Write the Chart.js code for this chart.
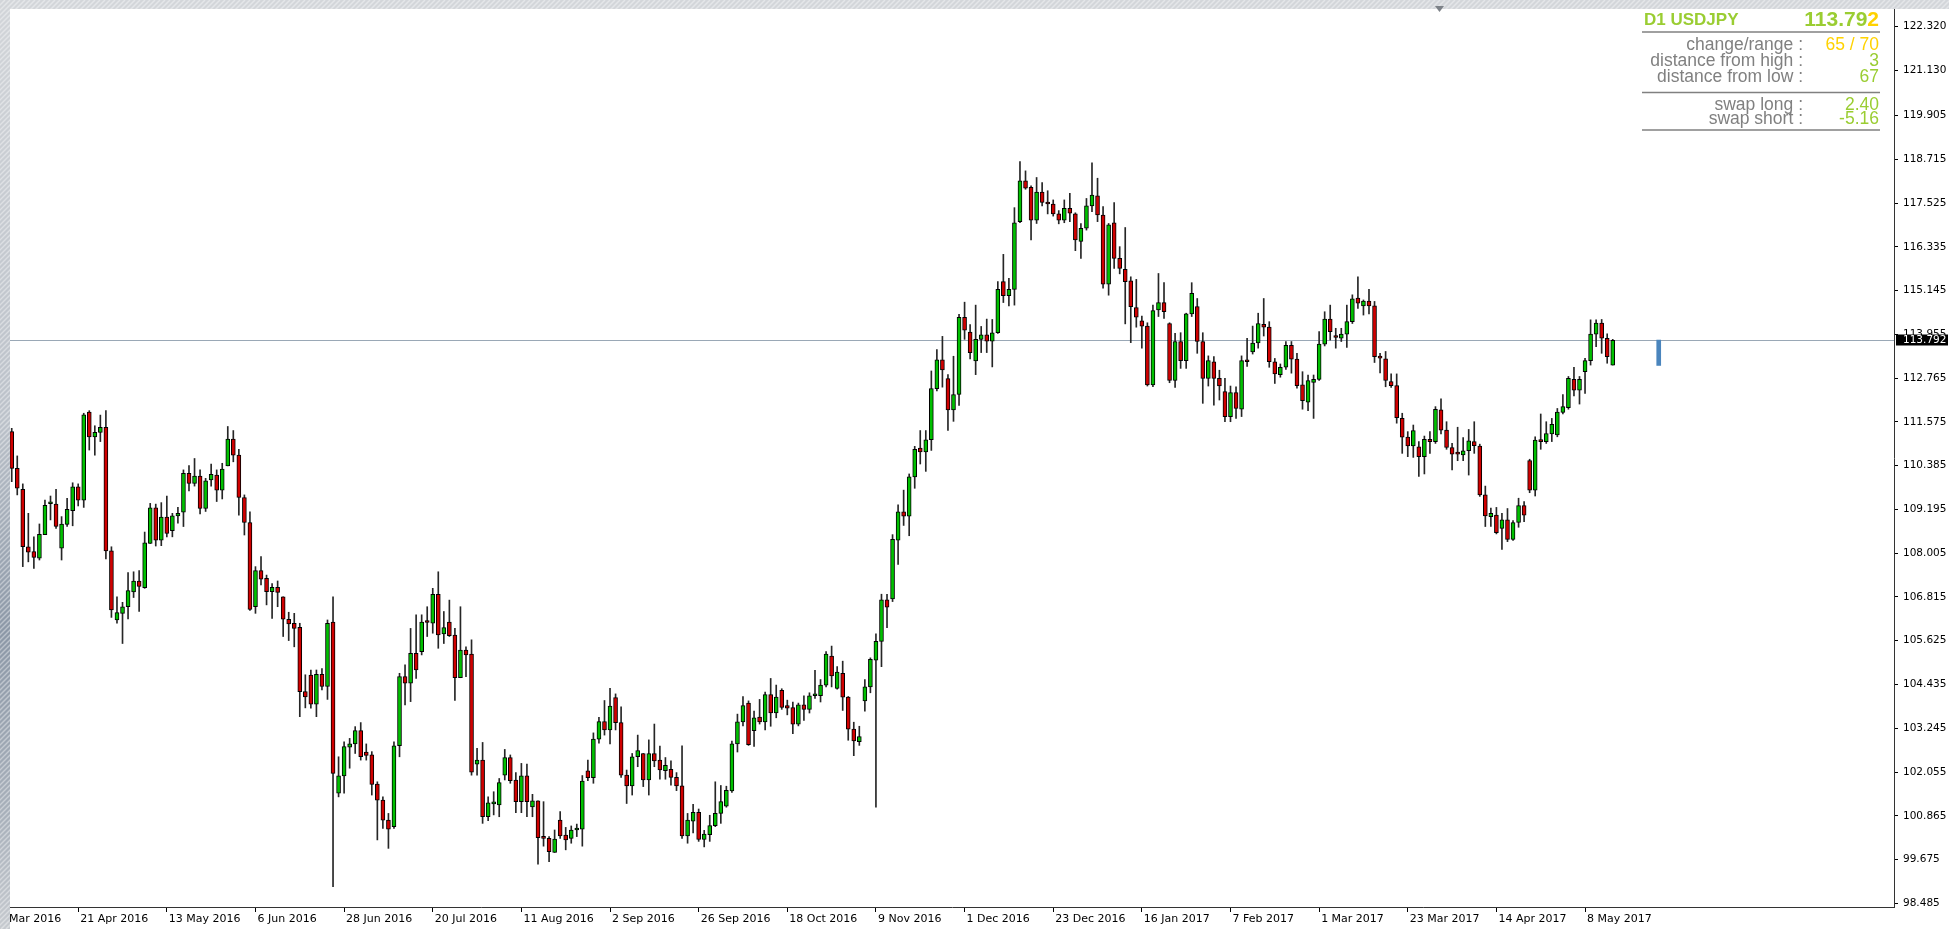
<!DOCTYPE html>
<html>
<head>
<meta charset="utf-8">
<title>D1 USDJPY</title>
<script src="https://cdn.jsdelivr.net/npm/chart.js@4.4.1/dist/chart.umd.min.js"></script>
<style>
    html, body { margin: 0; padding: 0; background: #fff; overflow: hidden; }
    #wrap { position: relative; width: 1949px; height: 929px; }
</style>
</head>
<body>
<div id="wrap"><canvas id="usdjpyChart" width="1949" height="929"></canvas></div>
<script>
// daily bars, bar 0 = 5 Apr 2016 ... bar 289 = 15 May 2017
const opens = [
    111.31, 110.31, 109.74, 108.18, 108.05, 107.87, 108.51, 109.35, 109.34, 108.14,
    108.79, 109.16, 109.81, 109.45, 111.84, 111.17, 111.29, 111.43, 108.07, 106.19,
    106.37, 106.55, 106.95, 107.25, 107.07, 108.27, 109.24, 108.36, 108.99, 108.62,
    109.02, 109.12, 110.18, 109.90, 110.10, 109.22, 110.00, 110.13, 109.72, 110.38,
    111.11, 110.67, 109.52, 108.84, 106.55, 107.53, 107.32, 106.96, 107.08, 106.82,
    106.21, 106.10, 105.99, 104.24, 104.69, 103.90, 104.71, 104.38, 106.13, 101.48,
    101.95, 102.73, 102.82, 103.18, 102.60, 102.52, 101.73, 101.29, 100.75, 100.57,
    102.77, 104.65, 104.47, 105.28, 105.33, 106.14, 106.10, 106.89, 105.81, 106.13,
    105.78, 104.62, 105.37, 105.26, 102.27, 102.38, 100.84, 101.19, 101.16, 101.97,
    102.45, 101.84, 101.25, 101.95, 101.11, 101.27, 100.30, 100.25, 99.87, 100.75,
    100.34, 100.25, 100.48, 100.50, 102.09, 101.90, 102.95, 103.43, 103.20, 104.08,
    103.40, 101.97, 101.68, 102.47, 102.56, 101.84, 102.56, 102.38, 102.09, 102.13,
    101.91, 101.68, 100.32, 100.72, 100.96, 100.22, 100.35, 100.60, 100.93, 101.13,
    101.54, 102.82, 103.42, 103.93, 103.18, 103.55, 103.42, 104.16, 103.66, 104.28,
    103.86, 103.81, 103.36, 103.88, 103.76, 104.13, 104.13, 104.42, 105.21, 104.33,
    104.74, 104.09, 103.22, 102.88, 103.99, 104.37, 105.10, 105.61, 106.74, 106.76,
    108.36, 109.13, 109.01, 110.08, 110.86, 110.76, 111.09, 112.48, 113.26, 112.75,
    111.90, 112.32, 114.42, 114.02, 113.23, 113.82, 113.94, 113.77, 114.00, 115.39,
    115.01, 115.18, 117.02, 118.13, 117.95, 117.06, 117.82, 117.54, 117.50, 117.23,
    117.06, 117.38, 117.23, 116.48, 116.84, 117.45, 117.72, 117.20, 115.32, 116.99,
    116.02, 115.72, 115.41, 114.68, 114.32, 114.18, 112.58, 114.62, 114.82, 114.25,
    112.70, 113.76, 113.24, 114.51, 114.71, 113.76, 112.76, 113.21, 112.76, 112.40,
    111.72, 112.37, 111.92, 113.26, 113.48, 113.72, 114.23, 114.15, 113.21, 112.86,
    113.06, 113.66, 113.28, 112.58, 112.11, 112.65, 112.73, 113.69, 114.37, 113.89,
    113.85, 113.96, 114.30, 114.94, 114.73, 114.86, 114.73, 113.35, 113.29, 112.67,
    112.56, 111.67, 111.16, 110.92, 110.90, 110.63, 111.10, 111.04, 111.90, 111.35,
    110.88, 110.72, 110.68, 110.79, 111.04, 110.92, 109.59, 109.00, 109.04, 108.68,
    108.91, 108.38, 108.84, 109.30, 110.52, 109.72, 111.08, 111.04, 111.25, 111.22,
    111.83, 111.96, 112.73, 112.44, 112.94, 113.24, 113.96, 114.26, 113.85, 113.12,
];
const highs = [
    111.40, 110.65, 109.89, 109.09, 108.45, 108.80, 109.45, 109.56, 109.74, 109.00,
    109.50, 109.92, 109.89, 111.81, 111.88, 111.47, 111.76, 111.88, 108.18, 106.82,
    106.67, 107.48, 107.50, 107.53, 108.58, 109.36, 109.34, 109.38, 109.56, 109.09,
    109.25, 110.27, 110.39, 110.58, 110.27, 110.04, 110.43, 110.27, 110.45, 111.45,
    111.34, 110.83, 109.59, 109.13, 107.64, 107.91, 107.41, 107.18, 107.25, 106.82,
    106.40, 106.37, 106.10, 104.70, 104.83, 104.83, 104.87, 106.19, 106.82, 102.47,
    102.88, 102.97, 103.29, 103.40, 102.82, 102.61, 101.79, 101.38, 100.93, 102.88,
    104.74, 104.97, 105.96, 106.33, 106.33, 106.55, 107.05, 107.50, 106.42, 106.73,
    105.96, 106.55, 105.46, 105.65, 102.70, 102.86, 101.38, 101.52, 101.88, 102.67,
    102.52, 102.04, 102.29, 102.27, 101.45, 101.27, 101.25, 100.30, 100.48, 100.98,
    100.55, 100.59, 100.64, 101.96, 102.38, 103.12, 103.54, 104.00, 104.33, 104.18,
    103.83, 102.11, 102.56, 103.06, 102.56, 102.93, 103.36, 102.76, 102.45, 102.36,
    102.04, 102.77, 100.93, 101.18, 101.05, 100.47, 100.88, 101.79, 101.69, 101.67,
    102.90, 103.63, 104.11, 103.99, 103.71, 104.03, 104.23, 104.60, 104.42, 104.32,
    104.01, 103.96, 103.93, 104.13, 104.21, 104.82, 104.57, 105.33, 105.48, 104.92,
    105.07, 104.11, 103.41, 103.30, 104.57, 105.16, 105.81, 106.89, 106.89, 108.51,
    109.32, 109.72, 110.16, 110.91, 111.34, 111.34, 112.96, 113.54, 113.90, 112.86,
    113.36, 114.50, 114.83, 114.22, 114.75, 114.17, 114.37, 114.36, 115.39, 116.13,
    115.48, 117.40, 118.65, 118.40, 117.99, 118.22, 118.08, 117.86, 117.61, 117.32,
    117.61, 117.79, 117.26, 116.97, 117.65, 118.62, 118.20, 117.43, 116.97, 117.54,
    116.34, 116.86, 115.52, 115.45, 114.45, 114.27, 114.75, 115.61, 115.36, 114.27,
    113.98, 114.00, 114.53, 115.36, 114.93, 114.00, 113.37, 113.35, 112.98, 112.76,
    112.55, 112.53, 113.37, 113.85, 114.18, 114.53, 114.93, 114.30, 113.30, 113.15,
    113.76, 113.76, 113.44, 112.94, 112.85, 112.85, 114.03, 114.57, 114.75, 114.12,
    114.12, 114.75, 115.03, 115.52, 114.89, 115.18, 114.85, 113.44, 113.49, 112.88,
    112.88, 111.81, 111.31, 111.49, 111.04, 111.19, 111.31, 111.99, 112.20, 111.58,
    110.99, 111.43, 111.15, 111.37, 111.58, 110.97, 109.83, 109.23, 109.25, 109.09,
    109.22, 108.89, 109.50, 109.41, 110.56, 111.17, 111.79, 111.58, 111.67, 111.94,
    112.32, 112.81, 113.06, 112.81, 113.30, 114.35, 114.35, 114.36, 113.97, 113.82,
];
const lows = [
    109.95, 109.59, 107.64, 107.77, 107.59, 107.82, 108.51, 108.91, 108.68, 107.82,
    108.73, 108.75, 109.29, 109.25, 110.81, 110.67, 111.04, 107.85, 106.26, 106.10,
    105.55, 106.22, 106.80, 106.42, 107.05, 108.27, 108.20, 108.21, 108.45, 108.45,
    108.82, 108.73, 109.70, 109.83, 109.07, 109.14, 109.83, 109.41, 109.48, 110.38,
    110.49, 109.04, 108.50, 106.45, 106.37, 107.14, 106.60, 106.23, 106.55, 105.74,
    105.63, 105.46, 103.56, 103.80, 103.79, 103.56, 104.29, 104.03, 98.94, 101.38,
    101.48, 102.16, 102.56, 102.38, 102.38, 101.43, 100.21, 100.52, 99.98, 100.52,
    102.47, 103.88, 103.97, 104.60, 105.24, 105.74, 105.83, 105.42, 105.55, 105.74,
    104.00, 104.62, 104.65, 101.97, 101.97, 100.66, 100.73, 100.89, 100.84, 101.84,
    101.75, 100.95, 100.95, 100.84, 100.84, 99.55, 100.04, 99.62, 99.87, 100.25,
    99.94, 100.12, 100.30, 100.04, 101.82, 101.75, 102.84, 103.06, 102.82, 103.20,
    101.91, 101.20, 101.43, 102.20, 101.66, 101.43, 102.20, 101.86, 101.86, 101.70,
    101.55, 100.25, 100.12, 100.40, 100.17, 100.02, 100.17, 100.57, 100.66, 101.10,
    101.50, 102.60, 103.31, 102.78, 102.75, 103.36, 103.20, 103.30, 103.53, 103.76,
    103.61, 103.10, 103.31, 103.46, 103.66, 104.06, 103.96, 104.37, 104.37, 104.31,
    103.73, 102.92, 102.50, 102.78, 103.71, 104.21, 101.10, 104.92, 105.98, 106.69,
    107.70, 108.76, 108.48, 109.77, 110.43, 110.23, 110.80, 112.42, 112.52, 111.34,
    111.59, 112.02, 113.82, 113.29, 112.86, 113.46, 113.46, 113.07, 113.98, 114.82,
    114.73, 114.75, 116.99, 117.90, 116.52, 116.97, 117.45, 117.23, 117.17, 116.96,
    116.99, 117.02, 116.23, 116.02, 116.79, 117.29, 117.02, 115.21, 115.02, 115.75,
    115.60, 114.24, 113.73, 114.15, 113.58, 112.55, 112.53, 114.44, 114.39, 112.64,
    112.51, 113.03, 113.03, 114.44, 113.44, 112.08, 112.55, 112.03, 112.17, 111.58,
    111.58, 111.67, 111.72, 113.08, 113.42, 113.58, 113.91, 113.06, 112.62, 112.79,
    113.00, 112.90, 112.49, 111.92, 111.88, 111.67, 112.70, 113.64, 113.80, 113.58,
    113.76, 113.60, 114.25, 114.66, 114.48, 114.51, 113.19, 112.91, 112.53, 112.51,
    111.54, 110.72, 110.63, 110.61, 110.09, 110.16, 110.72, 110.99, 111.25, 110.83,
    110.27, 110.52, 110.52, 110.13, 110.72, 109.55, 108.73, 108.73, 108.53, 108.11,
    108.32, 108.35, 108.71, 108.86, 109.65, 109.56, 110.83, 110.99, 111.04, 111.17,
    111.79, 111.92, 112.28, 112.06, 112.35, 113.12, 113.62, 113.44, 113.17, 113.12,
];
const closes = [
    110.31, 109.77, 108.18, 108.03, 107.89, 108.52, 109.31, 109.36, 108.73, 108.80,
    109.20, 109.81, 109.45, 111.77, 111.17, 111.29, 111.43, 108.07, 106.46, 106.39,
    106.55, 106.99, 107.25, 107.10, 108.29, 109.24, 108.36, 108.99, 108.54, 109.02,
    109.09, 110.18, 109.90, 110.10, 109.22, 109.97, 110.15, 109.72, 110.29, 111.11,
    110.67, 109.52, 108.84, 106.48, 107.53, 107.30, 106.96, 107.08, 106.94, 106.21,
    106.08, 105.96, 104.24, 104.10, 103.90, 104.71, 104.38, 106.10, 102.02, 101.95,
    102.75, 102.82, 103.18, 102.47, 102.51, 101.72, 101.29, 100.75, 100.50, 102.77,
    104.65, 104.47, 105.28, 104.83, 106.13, 106.12, 106.89, 105.78, 105.98, 105.76,
    104.62, 105.37, 105.24, 102.05, 102.38, 100.84, 101.22, 101.24, 101.77, 102.45,
    101.82, 101.25, 101.95, 101.25, 101.27, 100.27, 100.25, 99.89, 100.23, 100.32,
    100.21, 100.48, 100.52, 101.81, 101.90, 102.95, 103.43, 103.20, 103.85, 103.40,
    101.97, 101.68, 102.47, 102.64, 101.84, 102.56, 102.36, 102.11, 102.24, 101.91,
    101.68, 100.32, 100.75, 100.96, 100.22, 100.37, 100.60, 100.93, 101.25, 101.56,
    102.82, 103.42, 103.86, 102.80, 103.53, 103.42, 104.16, 103.66, 104.09, 103.81,
    103.79, 103.36, 103.88, 103.76, 104.13, 104.16, 104.42, 105.26, 104.67, 104.77,
    104.09, 103.22, 102.90, 103.02, 104.37, 105.12, 105.61, 106.74, 106.54, 108.38,
    109.13, 109.01, 110.08, 110.83, 110.76, 111.09, 112.48, 113.26, 112.99, 111.90,
    112.32, 114.42, 114.07, 113.46, 113.82, 113.94, 113.77, 114.00, 115.18, 115.01,
    115.18, 116.99, 118.13, 117.93, 117.06, 117.82, 117.54, 117.50, 117.23, 117.06,
    117.38, 117.25, 116.52, 116.84, 117.45, 117.74, 117.20, 115.32, 116.93, 116.02,
    115.75, 115.39, 114.71, 114.42, 114.18, 112.58, 114.60, 114.82, 114.57, 112.70,
    113.76, 113.24, 114.51, 115.07, 113.76, 112.76, 113.24, 112.76, 112.55, 111.72,
    112.37, 111.94, 113.24, 113.21, 113.72, 114.25, 114.15, 113.21, 112.88, 113.06,
    113.66, 113.28, 112.56, 112.15, 112.70, 112.73, 113.69, 114.37, 114.03, 113.87,
    113.96, 114.30, 114.92, 114.80, 114.86, 114.73, 113.35, 113.31, 112.70, 112.56,
    111.69, 111.16, 110.92, 111.34, 110.63, 111.10, 111.04, 111.92, 111.35, 110.88,
    110.70, 110.70, 110.79, 111.06, 110.93, 109.59, 109.02, 109.09, 108.56, 108.91,
    108.38, 108.84, 109.30, 109.04, 109.72, 111.08, 111.04, 111.26, 111.51, 111.84,
    111.99, 112.76, 112.44, 112.73, 113.24, 113.96, 114.26, 113.85, 113.35, 113.79,
];

// time axis: bar index of each date label
const xTickBars = [-4, 12, 28, 44, 60, 76, 92, 108, 124, 140, 156, 172, 188, 204, 220, 236, 252, 268, 284];
const xTickLabels = [
    "30 Mar 2016", "21 Apr 2016", "13 May 2016", "6 Jun 2016", "28 Jun 2016", "20 Jul 2016",
    "11 Aug 2016", "2 Sep 2016", "26 Sep 2016", "18 Oct 2016", "9 Nov 2016", "1 Dec 2016",
    "23 Dec 2016", "16 Jan 2017", "7 Feb 2017", "1 Mar 2017", "23 Mar 2017", "14 Apr 2017", "8 May 2017",
];
const yTickValues = [
    98.485, 99.675, 100.865, 102.055, 103.245, 104.435, 105.625, 106.815, 108.005, 109.195,
    110.385, 111.575, 112.765, 113.955, 115.145, 116.335, 117.525, 118.715, 119.905, 121.130, 122.320,
];

const bidPrice = 113.792;
const rangeMarkBar = [297.3];
const rangeMarkLow = [113.11];
const rangeMarkHigh = [113.80];

const panelTitle = "D1 USDJPY";
const panelPrice = "113.792";
const panelLabels = ["change/range :", "distance from high :", "distance from low :", "swap long :", "swap short :"];
const panelValues = ["65 / 70", "3", "67", "2.40", "-5.16"];

const GREEN = "#00c000";
const RED = "#d00000";
const YGREEN = "#9acd32";
const GOLD = "#ffd200";
const GREY = "#808080";

const bodies = opens.map((o, i) => ({ x: i, y: [o, closes[i]] }));
const wicks = lows.map((l, i) => ({ x: i, y: [l, highs[i]] }));
const rangeMark = rangeMarkBar.map((x, i) => ({ x: x, y: [rangeMarkLow[i], rangeMarkHigh[i]] }));

const mtOverlay = {
    id: "mtOverlay",
    beforeDatasetsDraw(chart) {
        const { ctx, chartArea } = chart;
        const y = Math.round(chart.scales.y.getPixelForValue(bidPrice)) + 0.5;
        ctx.save();
        ctx.strokeStyle = "#9aa8b6";
        ctx.lineWidth = 1;
        ctx.beginPath();
        ctx.moveTo(chartArea.left, y);
        ctx.lineTo(chartArea.right, y);
        ctx.stroke();
        ctx.restore();
    },
    afterDraw(chart) {
        const { ctx, width, height, chartArea } = chart;
        const yScale = chart.scales.y;
        ctx.save();

        // bid label on the price axis
        const py = yScale.getPixelForValue(bidPrice);
        ctx.fillStyle = "#000";
        ctx.fillRect(chartArea.right + 2, Math.round(py) - 5.5, width - chartArea.right - 3, 11);
        ctx.fillStyle = "#fff";
        ctx.font = "10.5px 'DejaVu Sans'";
        ctx.textAlign = "left";
        ctx.textBaseline = "middle";
        ctx.fillText(bidPrice.toFixed(3), chartArea.right + 9, Math.round(py) + 0.5);

        // info panel, top right
        const xr = 1879;
        ctx.textBaseline = "alphabetic";
        ctx.textAlign = "left";
        ctx.font = "bold 17px 'Liberation Sans'";
        ctx.fillStyle = YGREEN;
        ctx.fillText(panelTitle, 1644, 25);

        ctx.font = "bold 21px 'Liberation Sans'";
        ctx.textAlign = "right";
        const lastDigit = panelPrice.slice(-1);
        const wLast = ctx.measureText(lastDigit).width;
        ctx.fillStyle = GOLD;
        ctx.fillText(lastDigit, xr, 26);
        ctx.fillStyle = YGREEN;
        ctx.fillText(panelPrice.slice(0, -1), xr - wLast, 26);

        ctx.strokeStyle = GREY;
        ctx.lineWidth = 1.3;
        [32, 92.5, 130].forEach((ly) => {
            ctx.beginPath();
            ctx.moveTo(1642, ly);
            ctx.lineTo(1880, ly);
            ctx.stroke();
        });

        const rowY = [50, 66, 81.5, 109.5, 124];
        const valueColors = [GOLD, YGREEN, YGREEN, YGREEN, YGREEN];
        ctx.font = "17.5px 'Liberation Sans'";
        panelLabels.forEach((label, k) => {
            ctx.fillStyle = GREY;
            ctx.fillText(label, 1803, rowY[k]);
            ctx.fillStyle = valueColors[k];
            ctx.fillText(panelValues[k], xr, rowY[k]);
        });

        // terminal window frame (hatched strips)
        const g = ctx.createLinearGradient(0, 0, 0, height);
        g.addColorStop(0, "#d2d5d9");
        g.addColorStop(0.45, "#bcc2ca");
        g.addColorStop(0.68, "#8c98a7");
        g.addColorStop(0.88, "#a9b1bb");
        g.addColorStop(1, "#c6cacf");
        ctx.fillStyle = "#d3d6da";
        ctx.fillRect(0, 0, width, 9);
        ctx.fillStyle = g;
        ctx.fillRect(0, 0, 10, height);
        ctx.beginPath();
        ctx.rect(0, 0, width, 9);
        ctx.rect(0, 9, 10, height - 9);
        ctx.clip();
        ctx.strokeStyle = "rgba(255,255,255,0.4)";
        ctx.lineWidth = 1.5;
        ctx.beginPath();
        for (let k = -height; k < width; k += 5) {
            ctx.moveTo(k, height);
            ctx.lineTo(k + height, 0);
        }
        ctx.stroke();
        ctx.restore();

        // chart shift marker
        ctx.save();
        ctx.fillStyle = "#7d8288";
        ctx.beginPath();
        ctx.moveTo(1435, 6);
        ctx.lineTo(1444, 6);
        ctx.lineTo(1439.5, 12);
        ctx.closePath();
        ctx.fill();
        ctx.restore();
    },
};

const ctx = document.getElementById("usdjpyChart").getContext("2d");

new Chart(ctx, {
    type: "bar",
    data: {
        datasets: [
            {
                label: "body",
                data: bodies,
                order: 0,
                grouped: false,
                barThickness: 4,
                minBarLength: 2,
                borderWidth: 1,
                borderColor: "#000",
                borderSkipped: false,
                backgroundColor: (c) => (closes[c.dataIndex] >= opens[c.dataIndex] ? GREEN : RED),
            },
            {
                label: "wick",
                data: wicks,
                order: 1,
                grouped: false,
                barThickness: 1,
                borderWidth: 0,
                backgroundColor: "#262626",
            },
            {
                label: "range",
                data: rangeMark,
                order: 2,
                grouped: false,
                barThickness: 4,
                borderWidth: 0,
                backgroundColor: "#4a85bd",
            },
        ],
    },
    options: {
        responsive: false,
        animation: false,
        events: [],
        devicePixelRatio: 1,
        layout: { padding: { left: 10, top: 9, right: 0, bottom: 0 } },
        plugins: {
            legend: { display: false },
            tooltip: { enabled: false },
            title: { display: false },
        },
        scales: {
            x: {
                type: "linear",
                position: "bottom",
                min: -0.31,
                max: 339.77,
                offset: false,
                afterBuildTicks: (s) => {
                    s.ticks = xTickBars.map((v) => ({ value: v }));
                },
                afterFit: (s) => {
                    s.height = 22;
                    s.paddingLeft = 0;
                    s.paddingRight = 0;
                },
                ticks: {
                    autoSkip: false,
                    maxRotation: 0,
                    align: "start",
                    labelOffset: 2,
                    padding: 1,
                    color: "#000",
                    font: { family: "'DejaVu Sans'", size: 11 },
                    callback: (v, idx) => xTickLabels[idx],
                },
                grid: { drawOnChartArea: false, offset: false, tickLength: 5, color: "#000" },
                border: { color: "#333", width: 1 },
            },
            y: {
                type: "linear",
                position: "right",
                min: 98.386,
                max: 122.801,
                afterBuildTicks: (s) => {
                    s.ticks = yTickValues.map((v) => ({ value: v }));
                },
                afterFit: (s) => {
                    s.width = 55;
                    s.paddingTop = 0;
                    s.paddingBottom = 0;
                },
                ticks: {
                    padding: 5,
                    color: "#000",
                    font: { family: "'DejaVu Sans'", size: 10.5 },
                    callback: (v) => v.toFixed(3),
                },
                grid: { drawOnChartArea: false, tickLength: 4, color: "#000" },
                border: { color: "#333", width: 1 },
            },
        },
    },
    plugins: [mtOverlay],
});
</script>
</body>
</html>
